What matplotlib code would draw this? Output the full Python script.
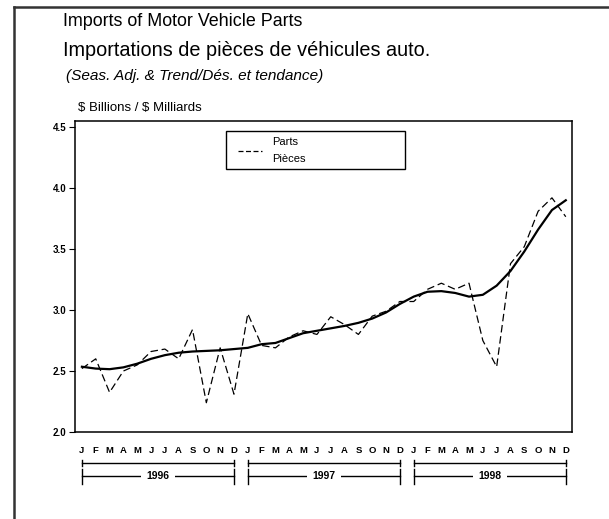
import matplotlib
matplotlib.use('Agg')
import matplotlib.pyplot as plt
from matplotlib.lines import Line2D
from matplotlib.patches import Rectangle
import matplotlib.transforms as mtransforms

plt.rcParams['font.family'] = ['Liberation Sans', 'DejaVu Sans']

months = ['J', 'F', 'M', 'A', 'M', 'J', 'J', 'A', 'S', 'O', 'N', 'D'] * 3
years = ['1996', '1997', '1998']

# seasonally adjusted series (dashed), $ billions
parts = [2.52, 2.60, 2.325, 2.50, 2.55, 2.66, 2.68, 2.60, 2.84, 2.24, 2.69, 2.31,
         2.97, 2.71, 2.69, 2.78, 2.83, 2.80, 2.945, 2.88, 2.80, 2.95, 2.99, 3.07,
         3.07, 3.17, 3.22, 3.17, 3.22, 2.75, 2.535, 3.38, 3.52, 3.81, 3.92, 3.765]
# trend (solid)
trend = [2.535, 2.52, 2.515, 2.53, 2.56, 2.60, 2.63, 2.65, 2.66, 2.665, 2.67, 2.68,
         2.69, 2.72, 2.73, 2.77, 2.81, 2.83, 2.85, 2.87, 2.895, 2.93, 2.98, 3.05,
         3.11, 3.15, 3.155, 3.14, 3.11, 3.125, 3.20, 3.32, 3.48, 3.66, 3.82, 3.90]

x = list(range(len(parts)))

W, H = 609, 519
fig = plt.figure(figsize=(W / 100, H / 100), dpi=100)

# axes box in pixels: left 75, right 572, top 121, bottom 432
ax = fig.add_axes([75 / W, (H - 432) / H, (572 - 75) / W, (432 - 121) / H])

ax.plot(x, trend, color='black', lw=1.6, solid_joinstyle='round')
ax.plot(x, parts, color='black', lw=0.9, dashes=(6, 3))

ax.set_xlim(-0.5, 35.45)
ax.set_ylim(2.0, 4.55)
ax.set_yticks([2.0, 2.5, 3.0, 3.5, 4.0, 4.5])
ax.set_yticklabels(['2.0', '2.5', '3.0', '3.5', '4.0', '4.5'], fontsize=7, fontweight='bold')
ax.set_xticks(x)
ax.set_xticklabels(months, fontsize=6.8, fontweight='bold')
ax.tick_params(axis='x', length=0, pad=10)
ax.tick_params(axis='y', length=4, width=0.8, pad=2)
for sp in ax.spines.values():
    sp.set_linewidth(1.1)

# year brackets under the months
trans = mtransforms.blended_transform_factory(ax.transData, ax.transAxes)
for i, yr in enumerate(years):
    x0, x1 = i * 12, i * 12 + 11
    y_top = (432 - 463) / 311
    y_low = (432 - 476) / 311
    ax.add_line(Line2D([x0, x1], [y_top, y_top], transform=trans, color='black', lw=1.0, clip_on=False))
    ax.add_line(Line2D([x0, x1], [y_low, y_low], transform=trans, color='black', lw=1.0, clip_on=False))
    for xe in (x0, x1):
        ax.add_line(Line2D([xe, xe], [(432 - 460) / 311, (432 - 466) / 311], transform=trans,
                           color='black', lw=1.0, clip_on=False))
        ax.add_line(Line2D([xe, xe], [(432 - 469) / 311, (432 - 484) / 311], transform=trans,
                           color='black', lw=1.0, clip_on=False))
    ax.text((x0 + x1) / 2, y_low, yr, transform=trans, ha='center', va='center',
            fontsize=7.5, fontweight='bold', clip_on=False,
            bbox=dict(facecolor='white', edgecolor='none', pad=4))

# legend box
ax.add_patch(Rectangle((0.304, 0.846), 0.664 - 0.304, 0.968 - 0.846, transform=ax.transAxes,
                       facecolor='white', edgecolor='black', lw=1.0, zorder=5))
ax.add_line(Line2D([0.328, 0.376], [0.904, 0.904], transform=ax.transAxes, color='black',
                   lw=0.9, dashes=(4, 2), zorder=6))
ax.text(0.396, 0.933, 'Parts', transform=ax.transAxes, fontsize=8, va='center', zorder=6)
ax.text(0.396, 0.877, 'Pièces', transform=ax.transAxes, fontsize=8, va='center', zorder=6)

# titles
fig.text(63 / W, 1 - 22 / H, 'Imports of Motor Vehicle Parts', fontsize=12.9, va='center')
fig.text(63 / W, 1 - 50 / H, 'Importations de pièces de véhicules auto.', fontsize=14.3, va='center')
fig.text(66 / W, 1 - 76 / H, '(Seas. Adj. & Trend/Dés. et tendance)', fontsize=11.1,
         style='italic', va='center')
fig.text(78 / W, 1 - 108 / H, r'\$ Billions / \$ Milliards', fontsize=9.5, va='center')

# outer frame: top and left edges only
fig.add_artist(Line2D([14 / W, 1], [1 - 7 / H, 1 - 7 / H], transform=fig.transFigure,
                      color='#333333', lw=1.8))
fig.add_artist(Line2D([14 / W, 14 / W], [0, 1 - 7 / H], transform=fig.transFigure,
                      color='#333333', lw=1.8))

fig.savefig('out.png', dpi=100)
